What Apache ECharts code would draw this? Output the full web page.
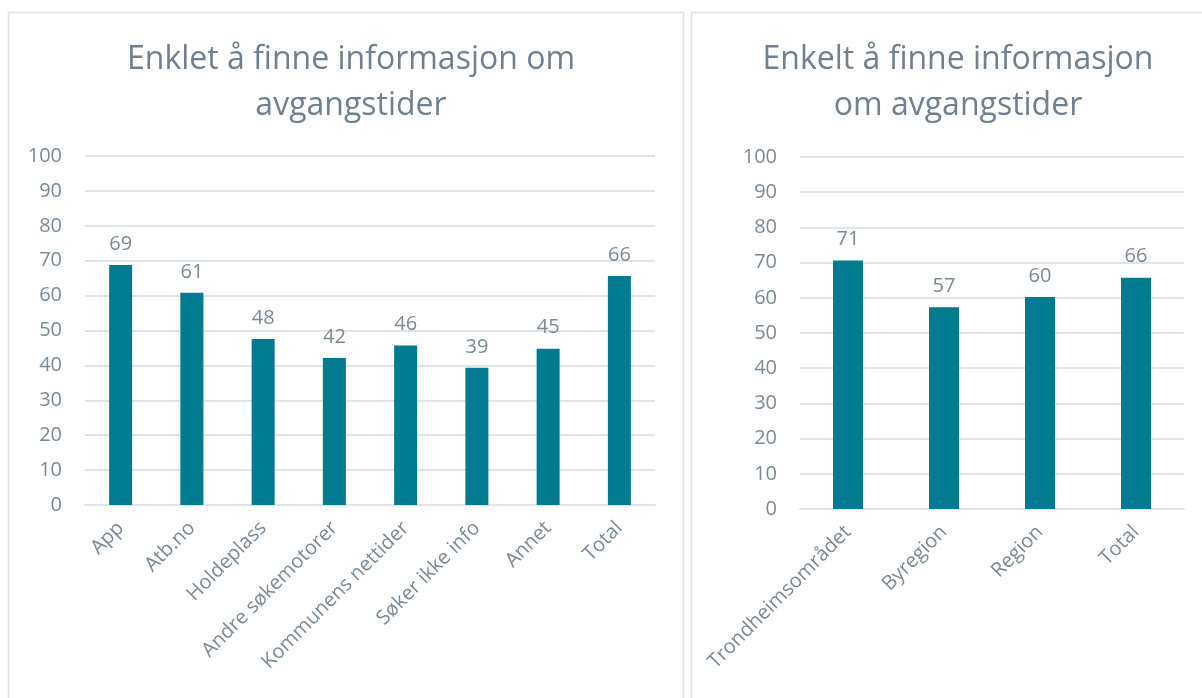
<!DOCTYPE html>
<html>
<head>
<meta charset="utf-8">
<script src="https://cdn.jsdelivr.net/npm/echarts@6/dist/echarts.min.js"></script>
<style>
html, body { margin: 0; padding: 0; background: #fff; }
#container { width: 1202px; height: 698px; }
</style>
</head>
<body>
<div id="container"></div>
<script>
var leftCategories = ['App', 'Atb.no', 'Holdeplass', 'Andre søkemotorer', 'Kommunens nettider', 'Søker ikke info', 'Annet', 'Total'];
var leftValues = [68.8, 60.8, 47.6, 42.1, 45.7, 39.3, 44.8, 65.6];
var rightCategories = ['Trondheimsområdet', 'Byregion', 'Region', 'Total'];
var rightValues = [70.6, 57.3, 60.2, 65.7];
var yTicks = [0, 10, 20, 30, 40, 50, 60, 70, 80, 90, 100];

var dom = document.getElementById('container');
var myChart = echarts.init(dom);

var textColor = '#7a8a98';
var lineColor = '#dfe4e8';
var barColor = '#007b90';
var font = 'Open Sans';

function xAxisFor(idx, cats) {
    return {
        type: 'category',
        gridIndex: idx,
        data: cats,
        axisTick: { show: false },
        axisLine: { lineStyle: { color: lineColor, width: 2 } },
        axisLabel: {
            rotate: 45,
            interval: 0,
            margin: 20,
            color: textColor,
            fontFamily: font,
            fontSize: 20
        }
    };
}

function yAxisFor(idx) {
    return {
        type: 'value',
        gridIndex: idx,
        min: yTicks[0],
        max: yTicks[yTicks.length - 1],
        interval: 10,
        axisLine: { show: false },
        axisTick: { show: false },
        splitLine: { lineStyle: { color: lineColor, width: 2 } },
        axisLabel: {
            margin: 23,
            color: textColor,
            fontFamily: font,
            fontSize: 20
        }
    };
}

function barSeries(idx, values, width) {
    return {
        type: 'bar',
        xAxisIndex: idx,
        yAxisIndex: idx,
        data: values,
        barWidth: width,
        itemStyle: { color: barColor },
        label: {
            show: true,
            position: 'top',
            distance: 11,
            color: textColor,
            fontFamily: font,
            fontSize: 20,
            formatter: function (p) { return Math.round(p.value); }
        }
    };
}

var titleStyle = { color: '#6f8191', fontFamily: font, fontWeight: 'normal', fontSize: 32, lineHeight: 46 };

var option = {
    backgroundColor: '#ffffff',
    animation: false,
    title: [
        {
            text: 'Enklet å finne informasjon om\navgangstider',
            left: 346,
            top: 32,
            textAlign: 'center',
            textStyle: titleStyle
        },
        {
            text: 'Enkelt å finne informasjon\nom avgangstider',
            left: 953,
            top: 32,
            textAlign: 'center',
            textStyle: titleStyle
        }
    ],
    graphic: [
        { type: 'rect', shape: { x: 8.5, y: 12.5, width: 675, height: 700 }, style: { fill: 'none', stroke: '#dde2e6', lineWidth: 1.5 }, silent: true },
        { type: 'rect', shape: { x: 691.5, y: 12.5, width: 520, height: 700 }, style: { fill: 'none', stroke: '#dde2e6', lineWidth: 1.5 }, silent: true }
    ],
    grid: [
        { left: 85, top: 156, width: 570, height: 349 },
        { left: 800, top: 157, width: 384, height: 352 }
    ],
    xAxis: [xAxisFor(0, leftCategories), xAxisFor(1, rightCategories)],
    yAxis: [yAxisFor(0), yAxisFor(1)],
    series: [barSeries(0, leftValues, 23), barSeries(1, rightValues, 30)]
};

myChart.setOption(option, true);
</script>
</body>
</html>
